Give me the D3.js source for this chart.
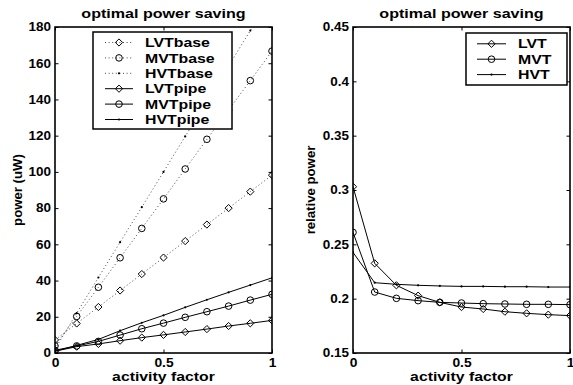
<!DOCTYPE html>
<html><head><meta charset="utf-8">
<script src="https://cdn.jsdelivr.net/npm/d3@7"></script>
<style>
html,body{margin:0;padding:0;background:#fff;}
svg{display:block;}
text{font-family:"Liberation Sans",Arial,sans-serif;font-weight:bold;fill:#000;}
</style></head>
<body>
<svg id="c" width="573" height="385"></svg>
<script>
// ---- data ----
const activity = [0,0.1,0.2,0.3,0.4,0.5,0.6,0.7,0.8,0.9,1.0];
const lvtBase = [7.2,16.3,25.4,34.5,43.6,52.7,61.8,70.9,80.0,89.1,98.2];
const mvtBase = [3.9,20.2,36.3,52.6,68.8,85.1,101.6,118.0,134.2,150.4,166.7];
const hvtBase = [2.2,22.0,41.7,61.2,80.5,100.0,119.6,138.8,158.5,178.0,197.6];
const lvtPipe = [1.0,3.5,5.0,6.8,8.5,10.0,11.6,13.2,14.9,16.4,18.0];
const mvtPipe = [1.5,3.9,6.4,9.9,13.4,16.5,19.7,22.8,25.9,29.2,32.4];
const hvtPipe = [1.0,4.2,7.5,12.3,16.7,20.8,25.2,29.4,33.5,37.5,41.5];
const lvtRel = [0.303,0.2325,0.2123,0.2028,0.1966,0.1923,0.1905,0.188,0.1865,0.1853,0.1844];
const mvtRel = [0.261,0.2061,0.2003,0.1982,0.1966,0.196,0.1954,0.1951,0.1948,0.1948,0.1945];
const hvtRel = [0.2426,0.2147,0.2132,0.2123,0.2117,0.2113,0.2113,0.211,0.211,0.2107,0.2107];
const xTicks = [0,0.5,1];
const yTicksLeft = [0,20,40,60,80,100,120,140,160,180];
const yTicksRight = [0.15,0.2,0.25,0.3,0.35,0.4,0.45];
const titleText = "optimal power saving";
const xLabel = "activity factor";
const yLabelLeft = "power (uW)";
const yLabelRight = "relative power";
const leftSeries = [
  {name:"LVTbase", values:lvtBase, marker:"diamond", dotted:true},
  {name:"MVTbase", values:mvtBase, marker:"circle", dotted:true},
  {name:"HVTbase", values:hvtBase, marker:"point", dotted:true},
  {name:"LVTpipe", values:lvtPipe, marker:"diamond", dotted:false},
  {name:"MVTpipe", values:mvtPipe, marker:"circle", dotted:false},
  {name:"HVTpipe", values:hvtPipe, marker:"point", dotted:false}
];
const rightSeries = [
  {name:"LVT", values:lvtRel, marker:"diamond", dotted:false},
  {name:"MVT", values:mvtRel, marker:"circle", dotted:false},
  {name:"HVT", values:hvtRel, marker:"point", dotted:false}
];

const svg = d3.select("#c");

function stretch(sel, f){
  sel.each(function(){
    const l = this.getComputedTextLength();
    d3.select(this).attr("textLength", l*f).attr("lengthAdjust","spacingAndGlyphs");
  });
}

function drawMarker(g, type, cx, cy){
  if(type==="diamond"){
    const r=3.6;
    g.append("path").attr("d",`M${cx},${cy-r}L${cx+r},${cy}L${cx},${cy+r}L${cx-r},${cy}Z`)
      .attr("fill","none").attr("stroke","#000").attr("stroke-width",1);
  } else if(type==="circle"){
    g.append("circle").attr("cx",cx).attr("cy",cy).attr("r",3.3)
      .attr("fill","none").attr("stroke","#000").attr("stroke-width",1);
  } else {
    g.append("circle").attr("cx",cx).attr("cy",cy).attr("r",1.1).attr("fill","#000");
  }
}

function panel(opt){
  const x = d3.scaleLinear().domain([0,1]).range([opt.x0,opt.x1]);
  const y = d3.scaleLinear().domain(opt.ydom).range([353,27]);
  const id = "clip"+opt.id;
  svg.append("clipPath").attr("id",id).append("rect")
    .attr("x",opt.x0).attr("y",27).attr("width",opt.x1-opt.x0).attr("height",326);
  const g = svg.append("g");
  const plot = g.append("g").attr("clip-path",`url(#${id})`);
  const line = d3.line().x((d,i)=>x(activity[i])).y(d=>y(d));
  opt.series.forEach(s=>{
    plot.append("path").attr("d",line(s.values)).attr("fill","none")
      .attr("stroke", s.dotted ? "#333" : "#000")
      .attr("stroke-width", s.dotted ? 0.9 : 1)
      .attr("stroke-dasharray", s.dotted ? "1,2.6" : null);
    s.values.forEach((v,i)=>drawMarker(plot, s.marker, x(activity[i]), y(v)));
  });
  // axes (MATLAB style: inward ticks on all sides)
  const tl = 3.5;
  const axB = g.append("g").attr("transform","translate(0,353)")
    .call(d3.axisBottom(x).tickValues(xTicks).tickSizeInner(-tl).tickSizeOuter(0).tickPadding(7).tickFormat(d3.format("")));
  const axT = g.append("g").attr("transform","translate(0,27)")
    .call(d3.axisTop(x).tickValues(xTicks).tickSizeInner(-tl).tickSizeOuter(0).tickFormat(""));
  const axL = g.append("g").attr("transform",`translate(${opt.x0},0)`)
    .call(d3.axisLeft(y).tickValues(opt.yticks).tickSizeInner(-tl).tickSizeOuter(0).tickPadding(4).tickFormat(opt.yfmt));
  const axR = g.append("g").attr("transform",`translate(${opt.x1},0)`)
    .call(d3.axisRight(y).tickValues(opt.yticks).tickSizeInner(-tl).tickSizeOuter(0).tickFormat(""));
  [axB,axT,axL,axR].forEach(a=>{
    a.select(".domain").remove();
    a.selectAll("line").attr("stroke","#000").attr("stroke-width",1);
    a.selectAll("text").style("font-family",'"Liberation Sans",Arial,sans-serif')
      .style("font-weight","bold").attr("font-size",12).attr("fill","#000");
  });
  axB.selectAll("text").attr("dy","0.6em");
  stretch(axB.selectAll("text"),1.15);
  stretch(axL.selectAll("text"),1.12);
  // box
  g.append("rect").attr("x",opt.x0).attr("y",27).attr("width",opt.x1-opt.x0).attr("height",326)
    .attr("fill","none").attr("stroke","#000").attr("stroke-width",1.6);
  // title & labels
  const cx = (opt.x0+opt.x1)/2;
  stretch(g.append("text").attr("x",cx).attr("y",18).attr("text-anchor","middle")
    .attr("font-size",13.5).text(titleText),1.19);
  stretch(g.append("text").attr("x",cx).attr("y",381).attr("text-anchor","middle")
    .attr("font-size",13.5).text(xLabel),1.17);
  g.append("text").attr("transform",`translate(${opt.ylx},190) rotate(-90)`).attr("text-anchor","middle")
    .attr("font-size",13.2).text(opt.ylabel);
  // legend
  const L = opt.legend;
  const lg = g.append("g");
  lg.append("rect").attr("x",L.x).attr("y",L.y).attr("width",L.w).attr("height",L.h)
    .attr("fill","#fff").attr("stroke","#000").attr("stroke-width",1.5);
  opt.series.forEach((s,i)=>{
    const yy = L.row0 + i*L.step;
    lg.append("line").attr("x1",L.l1).attr("x2",L.l2).attr("y1",yy).attr("y2",yy)
      .attr("stroke", s.dotted ? "#333" : "#000").attr("stroke-width", s.dotted?0.9:1)
      .attr("stroke-dasharray", s.dotted ? "1,2.6" : null);
    drawMarker(lg, s.marker, (L.l1+L.l2)/2, yy);
    stretch(lg.append("text").attr("x",L.tx).attr("y",yy+4.6).attr("font-size",13).text(s.name),1.22);
  });
}

panel({id:"L", x0:55, x1:272, ydom:[0,180], yticks:yTicksLeft, yfmt:d3.format(""),
  series:leftSeries, ylabel:yLabelLeft, ylx:22,
  legend:{x:93,y:32,w:139,h:97,row0:42.5,step:15.4,l1:105,l2:133,tx:145}});
panel({id:"R", x0:353, x1:570, ydom:[0.15,0.45], yticks:yTicksRight, yfmt:d3.format(""),
  series:rightSeries, ylabel:yLabelRight, ylx:315,
  legend:{x:466,y:33,w:101,h:52,row0:43.8,step:15.4,l1:477,l2:506,tx:518}});
</script>
</body></html>
